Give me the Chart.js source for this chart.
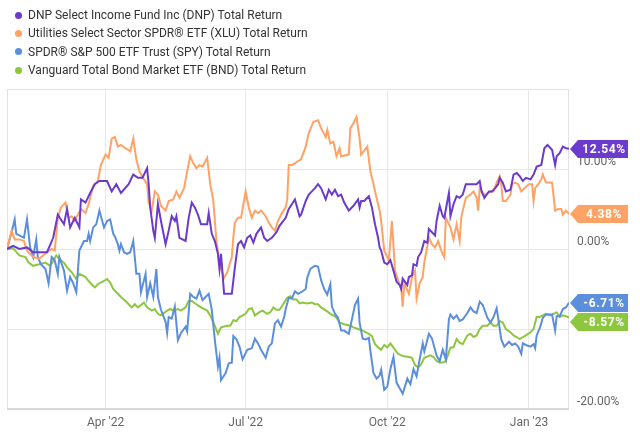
<!DOCTYPE html>
<html>
<head>
<meta charset="utf-8">
<script src="https://cdn.jsdelivr.net/npm/chart.js@4.4.1/dist/chart.umd.min.js"></script>
<style>
  html, body { margin:0; padding:0; background:#fff; }
  body { width:640px; height:438px; position:relative; overflow:hidden; font-family: Roboto, "Noto Sans", Arial, sans-serif; }
  #wrap { position:absolute; left:0; top:0; width:640px; height:438px; }
  #legend { position:absolute; left:15px; top:6px; font-size:12px; color:#333; line-height:18.3px; }
  .lg-item { display:flex; align-items:center; white-space:nowrap; }
  .lg-dot { width:7px; height:7px; border-radius:50%; margin-right:6px; }
</style>
</head>
<body>
<div id="wrap"><canvas id="chart" width="640" height="438"></canvas></div>
<div id="legend"></div>
<script>
// x = days since 27 Jan 2022, y = total return in %
const tickDays   = [64, 155, 247, 339];
const tickLabels = ["Apr '22", "Jul '22", "Oct '22", "Jan '23"];
const yLabelValues = [10, 0, -20];

const seriesNames  = [
  'DNP Select Income Fund Inc (DNP) Total Return',
  'Utilities Select Sector SPDR® ETF (XLU) Total Return',
  'SPDR® S&P 500 ETF Trust (SPY) Total Return',
  'Vanguard Total Bond Market ETF (BND) Total Return',
];
const seriesColors = ['#6a3bcc', '#ffa265', '#5b8fdc', '#8dc63f'];

const dnpDays = [0,4,8,13,17,21,26,30,33,37,39,41,44,47,48,51,54,57,60,65,68,71,74,79,82,85,88,91,92,93,95,96,98,100,103,105,107,109,110,112,116,118,120,122,124,126,130,131,133,135,137,138,139,141,144,146,148,150,152,154,156,158,160,162,165,167,169,172,175,177,181,183,185,187,190,191,194,196,198,200,202,204,207,209,211,213,215,217,219,222,225,228,229,230,232,235,237,239,241,242,243,245,247,249,251,253,255,256,257,260,261,263,264,266,267,269,271,273,274,276,278,279,281,283,284,287,288,290,292,294,296,298,302,305,307,308,310,313,315,317,319,320,322,324,327,329,331,333,335,337,340,342,344,347,349,351,354,356,357,359,361,363,365];
const dnpValues = [0,0.4,0.0,0.2,-0.4,-0.4,-0.4,1.4,4.3,3.1,5.0,2.7,3.9,2.7,6.2,5.8,7.0,8.1,8.5,8.5,7.2,8.1,7.0,8.1,9.3,8.9,8.9,10.1,8.1,5.2,2.3,1.4,5.6,3.5,0.6,2.3,4.1,3.5,4.1,1.4,1.0,3.9,5.8,5.2,4.3,3.1,3.1,4.5,1.9,1.0,-0.6,-2.5,-0.6,-5.6,-5.6,-5.6,-2.3,0.6,1.0,0.2,1.4,1.7,0.8,1.9,2.7,1.4,1.0,1.4,2.1,2.9,3.9,5.0,5.6,6.2,4.1,4.3,6.0,6.8,7.2,7.6,8.1,7.6,6.2,7.4,6.8,7.4,6.6,6.8,5.8,4.8,5.4,6.2,5.2,6.0,6.0,6.6,5.2,3.1,1.4,0.2,-0.2,-1.7,-1.9,-1.4,-2.7,-4.1,-4.5,-5.0,-3.7,-4.5,-3.5,-3.3,-1.9,-2.1,-1.0,-0.4,1.0,0.8,2.5,2.1,1.7,3.5,5.4,4.1,3.9,7.0,4.1,5.6,6.6,6.4,6.8,8.1,8.1,8.1,8.5,7.4,6.4,7.2,7.2,7.6,8.1,8.9,8.3,7.2,7.4,9.3,9.5,9.1,8.5,8.9,8.7,9.3,10.3,10.5,12.6,13.0,12.4,10.5,11.6,12.0,12.8,12.6,12.54];

const xluDays = [0,3,5,8,11,13,15,17,21,26,29,31,33,35,38,40,42,44,46,48,51,53,56,59,61,64,66,68,70,72,74,77,80,82,84,86,89,91,92,94,96,98,100,103,105,108,110,112,115,117,119,121,123,125,127,130,132,134,136,138,141,143,146,147,148,150,152,155,157,159,161,163,165,168,170,172,174,176,178,181,182,183,185,187,189,191,194,196,199,202,204,207,208,210,212,214,216,217,222,223,225,227,229,230,234,236,238,240,242,243,245,248,250,252,254,256,257,258,261,263,265,266,268,270,271,274,276,278,280,282,284,285,288,290,292,294,295,296,298,301,303,305,306,307,309,311,314,316,318,320,321,322,324,327,328,330,332,334,336,339,341,342,343,345,347,348,350,354,356,358,360,361,363,365];
const xluValues = [0,2.3,1.2,1.2,1.0,-0.2,-0.6,-1.0,-1.2,-0.4,0.0,-0.2,3.9,5.2,5.8,3.9,4.1,3.5,4.3,5.0,4.5,5.6,7.9,8.5,10.5,11.8,11.4,13.8,14.0,12.8,13.0,12.6,12.2,13.8,11.2,9.7,8.7,8.1,5.8,4.8,7.2,6.8,5.4,4.8,6.0,6.2,7.2,6.4,7.6,9.7,11.6,10.7,10.1,10.5,10.3,11.4,8.1,6.0,1.0,-1.9,-3.6,-2.9,-1.0,1.5,3.3,3.9,3.9,7.2,5.2,3.9,4.8,4.5,4.8,4.1,3.3,2.7,2.3,3.5,4.3,5.2,6.2,10.5,10.5,10.7,11.0,11.2,12.8,14.5,15.9,16.1,15.1,14.0,14.9,13.2,13.4,11.6,12.6,11.6,11.8,15.1,15.7,16.5,13.8,11.8,12.8,9.7,8.1,6.4,4.8,3.5,-0.2,-1.4,3.5,-2.7,-3.9,-4.8,-7.2,-4.3,-5.6,-3.5,-2.7,-6.2,-4.3,-3.5,-1.7,1.4,0.6,0.2,1.0,-0.2,-1.0,3.9,2.7,1.2,3.1,1.0,3.9,4.8,6.4,6.8,7.2,6.4,4.8,7.6,6.8,6.8,7.2,7.2,8.3,9.1,8.1,6.0,6.0,6.8,8.1,8.3,8.1,7.2,7.6,8.1,8.1,6.0,7.6,8.1,8.7,9.3,8.3,8.3,4.8,5.0,5.0,4.3,4.8,4.38];

const spyDays = [0,3,5,6,8,11,13,15,17,19,20,22,25,27,29,31,33,34,37,39,41,43,45,47,50,52,53,54,56,58,60,63,65,67,69,70,72,73,74,76,78,80,82,84,86,87,90,91,93,95,97,98,100,103,104,105,107,109,111,113,116,117,119,121,123,125,127,129,131,133,135,137,138,139,142,144,146,147,149,151,153,156,159,161,163,165,168,170,172,174,176,178,180,181,183,185,187,189,191,194,195,197,200,202,204,206,208,210,211,213,215,217,219,222,224,226,228,229,231,233,235,236,238,240,242,243,245,247,249,251,253,255,257,260,262,264,266,268,270,271,274,276,279,281,283,285,287,288,290,292,294,296,299,301,303,305,307,309,312,314,316,318,319,321,323,326,328,330,332,334,335,337,340,342,343,344,346,348,350,354,356,357,359,361,363,365];
const spyValues = [0,2.1,3.7,1.9,1.7,1.4,3.7,0.2,-1.0,1.2,-1.0,-1.9,-2.5,-4.3,-1.0,-1.4,-3.1,-1.0,-2.7,-5.2,-3.5,-4.3,-5.4,-0.2,1.0,1.0,1.9,1.0,2.7,3.1,4.8,2.7,3.5,3.7,1.9,1.6,0.6,-0.2,0.6,-0.4,-0.6,-0.4,1.0,-3.1,-3.1,-5.4,-3.1,-6.0,-4.3,-6.0,-2.5,-6.0,-7.6,-9.1,-10.5,-8.5,-8.7,-7.2,-11.4,-10.5,-9.7,-10.3,-5.6,-6.0,-6.2,-5.2,-6.4,-6.0,-5.6,-7.6,-11.4,-14.7,-13.6,-16.4,-15.5,-14.3,-14.2,-10.9,-11.3,-12.2,-13.8,-12.6,-12.4,-11.2,-11.8,-12.6,-13.6,-12.2,-11.8,-9.3,-8.9,-9.7,-8.5,-7.5,-6.1,-6.2,-5.3,-5.6,-5.4,-5.0,-3.6,-2.5,-2.1,-2.2,-3.9,-5.0,-5.7,-4.4,-7.2,-8.1,-8.6,-10.2,-10.2,-10.6,-8.8,-7.0,-6.2,-9.2,-11.2,-11.3,-11.1,-12.7,-15.5,-16.2,-15.8,-15.1,-17.6,-17.2,-15.0,-13.5,-16.7,-17.4,-18.1,-16.2,-16.9,-15.0,-15.9,-13.8,-11.8,-12.8,-10.6,-11.2,-13.3,-14.0,-12.6,-13.8,-8.8,-8.2,-8.7,-8.3,-9.0,-8.8,-8.0,-7.3,-7.8,-8.0,-6.6,-7.0,-8.6,-9.2,-8.5,-7.4,-8.6,-11.3,-12.2,-11.6,-12.0,-11.8,-12.2,-13.1,-11.8,-12.0,-12.2,-11.9,-12.4,-10.8,-9.9,-8.6,-8.2,-8.2,-10.2,-8.4,-8.4,-7.5,-7.3,-6.71];

const bndDays = [0,4,8,12,14,17,21,25,28,30,32,34,37,39,42,45,47,51,53,55,57,59,63,65,67,69,72,74,77,79,81,83,85,89,91,94,96,98,100,104,106,108,111,113,116,118,120,123,126,130,132,135,137,139,143,145,147,149,151,155,157,159,161,164,166,169,171,173,175,177,179,182,184,186,188,190,192,195,198,200,202,204,208,210,212,214,216,219,223,225,228,231,235,237,239,241,243,245,247,249,252,254,256,258,261,263,265,267,269,271,275,277,279,281,283,285,288,290,292,294,296,299,301,303,305,307,309,312,314,316,318,320,322,324,327,329,331,333,335,337,340,342,344,346,348,350,353,355,357,359,361,363,365];
const bndValues = [0,0.1,-0.8,-1.0,-1.7,-2.1,-1.9,-1.7,-2.1,-1.5,-0.8,-1.25,-1.7,-2.3,-2.9,-3.75,-3.1,-3.5,-4.0,-4.4,-4.8,-4.4,-4.0,-3.75,-4.2,-5.0,-5.6,-6.0,-6.5,-6.9,-7.3,-6.9,-7.3,-6.7,-7.3,-7.7,-7.5,-8.1,-8.3,-7.7,-7.5,-7.7,-7.5,-7.7,-7.3,-6.5,-6.5,-6.9,-7.3,-7.7,-8.3,-9.6,-10.6,-9.8,-9.6,-9.6,-8.9,-9.0,-8.5,-8.1,-7.5,-7.4,-8.3,-7.9,-7.7,-8.1,-7.9,-7.3,-7.6,-7.6,-7.0,-6.1,-5.9,-6.3,-6.3,-6.8,-6.7,-6.8,-6.7,-6.9,-6.9,-7.3,-7.8,-8.1,-8.3,-8.6,-9.2,-9.4,-9.6,-9.8,-10.0,-10.2,-10.6,-10.9,-11.9,-12.3,-12.6,-12.0,-12.3,-11.8,-12.6,-13.1,-13.3,-13.4,-13.5,-13.6,-14.5,-14.8,-14.4,-13.6,-13.3,-13.5,-14.0,-14.2,-14.2,-14.0,-12.3,-12.3,-11.25,-11.7,-11.9,-10.8,-10.6,-11.0,-10.8,-10.0,-9.6,-9.6,-9.2,-9.6,-9.6,-9.0,-9.2,-10.0,-10.4,-10.8,-11.0,-11.25,-11.0,-10.8,-10.4,-10.0,-8.5,-8.5,-8.3,-8.1,-8.3,-8.1,-7.9,-8.5,-8.3,-8.4,-8.57];

const seriesDays   = [dnpDays, xluDays, spyDays, bndDays];
const seriesValues = [dnpValues, xluValues, spyValues, bndValues];

const FONT = 'Roboto, "Noto Sans", Arial, sans-serif';

// legend (html, vertical list like the original)
document.getElementById('legend').innerHTML = seriesNames.map((n, i) => `
  <div class="lg-item"><span class="lg-dot" style="background:${seriesColors[i]}"></span>${n}</div>
`).join('');

const framePlugin = {
  id: 'frame',
  beforeDatasetsDraw(chart) {
    const { ctx, chartArea: a } = chart;
    ctx.save();
    ctx.strokeStyle = '#e2e2e2';
    ctx.lineWidth = 1;
    ctx.beginPath();
    ctx.moveTo(a.left + 0.5, a.bottom);
    ctx.lineTo(a.left + 0.5, a.top + 0.5);
    ctx.lineTo(a.right - 0.5, a.top + 0.5);
    ctx.lineTo(a.right - 0.5, a.bottom);
    ctx.stroke();
    ctx.strokeStyle = '#cfcfcf';
    ctx.lineWidth = 1.5;
    ctx.beginPath();
    ctx.moveTo(a.left, a.bottom);
    ctx.lineTo(a.right, a.bottom);
    ctx.stroke();
    ctx.restore();
  }
};

// arrow shaped value tags at the right end of each line
const endTagPlugin = {
  id: 'endTags',
  afterDatasetsDraw(chart) {
    const { ctx, chartArea: a } = chart;
    const yScale = chart.scales.y;
    const tags = chart.data.datasets.map((ds, i) => {
      const last = seriesValues[i][seriesValues[i].length - 1];
      return { v: last, y: yScale.getPixelForValue(last), color: seriesColors[i] };
    }).sort((p, q) => p.y - q.y);
    const h = 18, gap = 19;
    for (let i = 1; i < tags.length; i++) {
      if (tags[i].y - tags[i - 1].y < gap) tags[i].y = tags[i - 1].y + gap;
    }
    ctx.save();
    tags.forEach(t => {
      const tip = a.right + 1, x0 = a.right + 9, x1 = 628, cy = Math.round(t.y);
      ctx.fillStyle = t.color;
      ctx.beginPath();
      ctx.moveTo(tip, cy);
      ctx.lineTo(x0, cy - h / 2);
      ctx.lineTo(x1, cy - h / 2);
      ctx.lineTo(x1, cy + h / 2);
      ctx.lineTo(x0, cy + h / 2);
      ctx.closePath();
      ctx.fill();
      ctx.fillStyle = '#fff';
      ctx.font = `bold 12px ${FONT}`;
      ctx.letterSpacing = '0.6px';
      ctx.textAlign = 'center';
      ctx.textBaseline = 'middle';
      ctx.fillText(t.v.toFixed(2) + '%', (x0 + x1) / 2 + 1, cy + 1);
    });
    ctx.restore();
  }
};

new Chart(document.getElementById('chart'), {
  type: 'line',
  data: {
    datasets: seriesNames.map((n, i) => ({
      label: n,
      data: seriesDays[i].map((d, k) => ({ x: d, y: seriesValues[i][k] })),
      borderColor: seriesColors[i],
      backgroundColor: seriesColors[i],
      borderWidth: 2,
      pointRadius: 0,
      tension: 0,
    })),
  },
  options: {
    responsive: false,
    animation: false,
    devicePixelRatio: 1,
    layout: { padding: { left: 7, top: 89, right: 0, bottom: 0 } },
    plugins: { legend: { display: false }, tooltip: { enabled: false } },
    scales: {
      x: {
        type: 'linear', min: 0, max: 365,
        afterBuildTicks: s => { s.ticks = tickDays.map(v => ({ value: v })); },
        afterFit: s => { s.height = 29; },
        grid: { color: '#e8e8e8', drawTicks: false },
        border: { display: false },
        ticks: {
          autoSkip: false, maxRotation: 0, padding: 7,
          color: '#666', font: { family: FONT, size: 12 },
          callback: v => { const i = tickDays.indexOf(v); return i >= 0 ? tickLabels[i] : ''; },
        },
      },
      y: {
        position: 'right', min: -20, max: 20,
        afterFit: s => { s.width = 71; },
        grid: { color: '#e8e8e8', drawTicks: false },
        border: { display: false },
        ticks: {
          stepSize: 10, padding: 8, labelOffset: -7,
          color: '#666', font: { family: FONT, size: 12 },
          callback: v => yLabelValues.includes(v) ? v.toFixed(2) + '%' : '',
        },
      },
    },
  },
  plugins: [framePlugin, endTagPlugin],
});
</script>
</body>
</html>
